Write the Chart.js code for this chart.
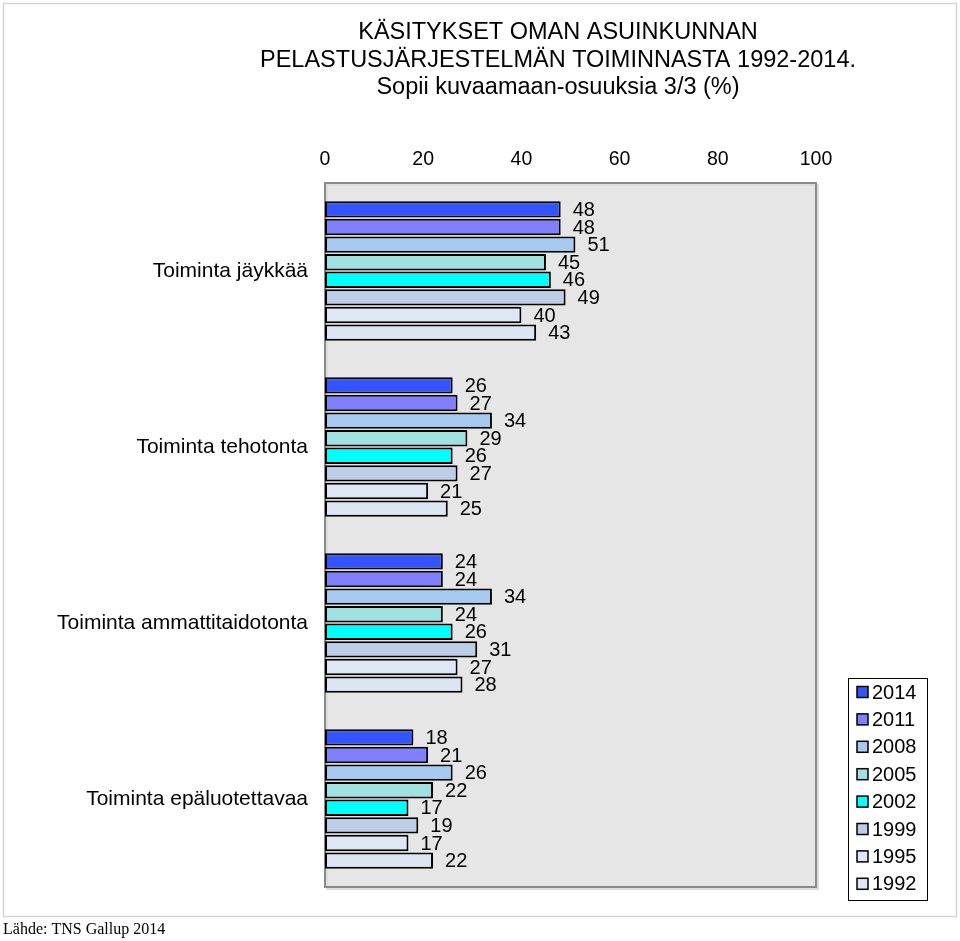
<!DOCTYPE html>
<html>
<head>
<meta charset="utf-8">
<script src="https://cdn.jsdelivr.net/npm/chart.js@4/dist/chart.umd.min.js"></script>
<style>
  html, body { margin: 0; padding: 0; background: #fff; }
</style>
</head>
<body>
<canvas id="chart" width="960" height="941"></canvas>
<script>
// Data
const titleLines = [
    'KÄSITYKSET OMAN ASUINKUNNAN',
    'PELASTUSJÄRJESTELMÄN TOIMINNASTA 1992-2014.',
    'Sopii kuvaamaan-osuuksia 3/3 (%)'
];
const sourceText = 'Lähde: TNS Gallup 2014';
const categories = ['Toiminta jäykkää', 'Toiminta tehotonta', 'Toiminta ammattitaidotonta', 'Toiminta epäluotettavaa'];
const years = ['2014', '2011', '2008', '2005', '2002', '1999', '1995', '1992'];
const values2014 = [48, 26, 24, 18];
const values2011 = [48, 27, 24, 21];
const values2008 = [51, 34, 34, 26];
const values2005 = [45, 29, 24, 22];
const values2002 = [46, 26, 26, 17];
const values1999 = [49, 27, 31, 19];
const values1995 = [40, 21, 27, 17];
const values1992 = [43, 25, 28, 22];
const xTicks = [0, 20, 40, 60, 80, 100];

const seriesValues = [values2014, values2011, values2008, values2005, values2002, values1999, values1995, values1992];
const seriesColors = ['#3355ff', '#8080ff', '#a6caf0', '#a0e0e0', '#00ffff', '#bccde6', '#dde7f5', '#dce6f2'];

const FONT = '"Liberation Sans", Arial, Helvetica, sans-serif';

// Fond, cadre extérieur, titre et source
const backgroundPlugin = {
    id: 'background',
    beforeDraw(chart) {
        const ctx = chart.ctx;
        const a = chart.chartArea;
        ctx.save();
        ctx.strokeStyle = '#d4d4d4';
        ctx.lineWidth = 1.5;
        ctx.strokeRect(3.5, 3.5, 953, 913);

        ctx.fillStyle = '#e6e6e6';
        ctx.fillRect(a.left, a.top, a.right - a.left, a.bottom - a.top);
        ctx.strokeStyle = '#dddddd';
        ctx.lineWidth = 2;
        ctx.strokeRect(a.left + 2, a.top + 2, a.right - a.left, a.bottom - a.top);
        ctx.strokeStyle = '#8a8a8a';
        ctx.lineWidth = 2;
        ctx.strokeRect(a.left, a.top, a.right - a.left, a.bottom - a.top);

        ctx.fillStyle = '#000';
        ctx.textAlign = 'center';
        ctx.textBaseline = 'middle';
        ctx.font = '23.5px ' + FONT;
        titleLines.forEach((line, i) => ctx.fillText(line, 558, 33 + i * 27.5));

        ctx.textAlign = 'left';
        ctx.font = '16px "Liberation Serif", "Times New Roman", serif';
        ctx.fillText(sourceText, 3, 930);
        ctx.restore();
    }
};

// Étiquettes de valeurs et légende
const labelsPlugin = {
    id: 'valueLabels',
    afterDatasetsDraw(chart) {
        const ctx = chart.ctx;
        ctx.save();
        ctx.fillStyle = '#000';
        ctx.font = '20px ' + FONT;
        ctx.textAlign = 'left';
        ctx.textBaseline = 'middle';
        chart.data.datasets.forEach((ds, i) => {
            const meta = chart.getDatasetMeta(i);
            meta.data.forEach((bar, j) => {
                ctx.fillText(String(ds.data[j]), bar.x + 12, bar.y + 1);
            });
        });

        // Légende
        const lx = 848, ly = 678, lw = 79, lh = 222;
        ctx.fillStyle = '#fff';
        ctx.fillRect(lx, ly, lw, lh);
        ctx.strokeStyle = '#000';
        ctx.lineWidth = 1;
        ctx.strokeRect(lx + 0.5, ly + 0.5, lw, lh);
        chart.data.datasets.forEach((ds, i) => {
            const cy = 692 + i * 27.4;
            ctx.fillStyle = ds.backgroundColor;
            ctx.fillRect(857, cy - 5.5, 11, 11);
            ctx.lineWidth = 1.5;
            ctx.strokeRect(857, cy - 5.5, 11, 11);
            ctx.fillStyle = '#000';
            ctx.font = '20px ' + FONT;
            ctx.fillText(ds.label, 872, cy + 1);
        });
        ctx.restore();
    }
};

const chart = new Chart(document.getElementById('chart'), {
    type: 'bar',
    data: {
        labels: categories,
        datasets: years.map((year, i) => ({
            label: year,
            data: seriesValues[i],
            backgroundColor: seriesColors[i],
            borderColor: '#000',
            borderWidth: 2,
            borderSkipped: false,
            categoryPercentage: 0.8,
            barPercentage: 0.93
        }))
    },
    options: {
        indexAxis: 'y',
        responsive: false,
        animation: false,
        layout: {
            padding: { left: 0, right: 144, top: 143, bottom: 54 }
        },
        plugins: {
            legend: { display: false },
            title: { display: false },
            tooltip: { enabled: false }
        },
        scales: {
            x: {
                position: 'top',
                min: 0,
                max: 100,
                afterBuildTicks(scale) {
                    scale.ticks = xTicks.map(v => ({ value: v }));
                },
                afterFit(scale) { scale.height = 40; },
                grid: { display: false, drawTicks: false },
                border: { display: false },
                ticks: {
                    color: '#000',
                    padding: 12,
                    font: { family: FONT, size: 19.5 }
                }
            },
            y: {
                afterFit(scale) { scale.width = 325; },
                grid: { display: false, drawTicks: false },
                border: { display: false },
                ticks: {
                    color: '#000',
                    padding: 17,
                    font: { family: FONT, size: 21 }
                }
            }
        }
    },
    plugins: [backgroundPlugin, labelsPlugin]
});
</script>
</body>
</html>
